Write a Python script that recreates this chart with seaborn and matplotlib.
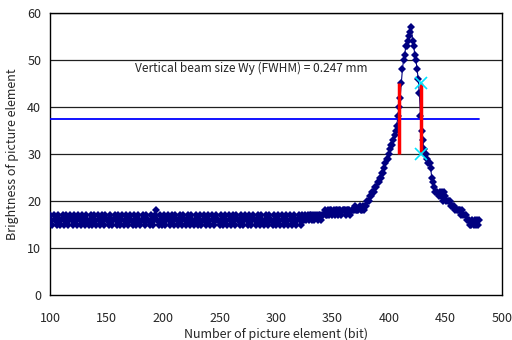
import numpy as np
import pandas as pd
import matplotlib
matplotlib.use("Agg")
import matplotlib.pyplot as plt
import seaborn as sns

# brightness profile, segment by segment
base_start = 100
base = [17, 16, 15, 17, 16, 16, 15, 17, 16, 15, 16, 17, 15, 16, 17, 16, 15, 16, 17, 16,
        15, 17, 16, 16, 15, 17, 16, 15, 17, 16, 16, 15, 17, 16, 15, 16, 17, 15, 16, 17,
        16, 15, 17, 16, 15, 16, 17, 16, 15, 17, 16, 16, 15, 17, 16, 15, 16, 17, 16, 15,
        17, 16, 15, 16, 17, 15, 16, 17, 16, 15, 16, 17, 16, 15, 17, 16, 15, 16, 17, 16,
        15, 16, 17, 16, 15, 17, 16, 16, 15, 17, 16, 15, 16, 17, 18, 16, 15, 17, 16, 15,
        16, 17, 15, 16, 17, 16, 15, 16, 17, 16, 15, 17, 16, 15, 16, 17, 16, 15, 17, 16,
        15, 16, 17, 16, 15, 17, 16, 15, 16, 17, 16, 15, 16, 17, 15, 16, 17, 16, 15, 16,
        17, 16, 15, 17, 16, 15, 16, 17, 16, 16, 15, 17, 16, 15, 16, 17, 16, 15, 17, 16,
        15, 16, 17, 16, 15, 17, 16, 16, 15, 17, 16, 15, 16, 17, 16, 15, 17, 16, 15, 16,
        17, 16, 15, 16, 17, 16, 15, 17, 16, 15, 16, 17, 16, 15, 17, 16, 16, 15, 17, 16,
        15, 16, 17, 16, 15, 17, 16, 15, 16, 17, 16, 15, 17, 16, 15, 16, 17, 16, 15, 16,
        17, 16, 15, 17, 16, 16, 17, 16, 17, 16, 17, 17, 16, 17, 16, 17, 17, 16, 17, 17,
        16, 17, 17, 18, 17]

shoulder_start = 345
shoulder = [17, 18, 17, 18, 18, 17, 18, 17, 18, 18, 17, 18, 18, 17, 18, 18, 18,
            17, 18, 18, 18, 17, 18, 18, 18, 19, 18, 18, 18, 19, 18, 18, 19]

rise_start = 378
rise = [18, 19, 19, 20, 20, 21, 21, 22, 22, 22, 23, 23, 24, 24, 25, 25, 26, 26,
        27, 28, 29, 29, 30, 31, 32, 32, 33, 34, 35, 36, 38, 40, 42, 45, 48, 50,
        51, 53, 53, 54, 55, 56, 57]

fall_start = 421
fall = [54, 53, 51, 50, 48, 46, 43, 38, 35, 33, 31, 30, 30, 29, 28, 28, 27, 25,
        24, 23, 22, 22, 22, 21, 22, 21, 22, 20, 22, 21, 20, 20, 20, 20, 19, 19,
        19, 19, 18, 18, 18, 18, 18, 17, 18, 17, 17, 17, 16, 16, 16, 15, 15, 16,
        15, 16, 15, 16, 15, 16]

half_level = 37.5
fwhm_left = 409
fwhm_right = 428.3
cross_y = [45, 30]
label = "Vertical beam size Wy (FWHM) = 0.247 mm"

xs = []
ys = []
for start, seg in [(base_start, base), (shoulder_start, shoulder),
                   (rise_start, rise), (fall_start, fall)]:
    xs += list(np.arange(start, start + len(seg)))
    ys += seg
df = pd.DataFrame({"pixel": xs, "brightness": ys})

sns.set_style("white")
plt.rcParams["font.family"] = ["Noto Sans CJK JP", "DejaVu Sans"]

fig = plt.figure(figsize=(5.12, 3.4), dpi=100)
ax = fig.add_axes([0.098, 0.132, 0.882, 0.830])

for v in range(10, 61, 10):
    ax.axhline(v, color="#202020", lw=0.9, zorder=0)

sns.lineplot(data=df, x="pixel", y="brightness", ax=ax, color="#000080",
             lw=0.8, marker="D", markersize=3.9, markeredgewidth=0,
             clip_on=True, zorder=3)

ax.plot([100, 480], [half_level, half_level], color="#0000ff", lw=1.3, zorder=4)
ax.vlines([fwhm_left, fwhm_right], cross_y[1], cross_y[0], color="#ff0000", lw=2.5, zorder=5)
ax.plot([fwhm_right, fwhm_right], cross_y, ls="none", marker="x", ms=9, mew=1.2,
        color="#00e5ff", zorder=6)

ax.text(175, 48.3, label, fontsize=8.6, va="center", ha="left")

ax.set_xlim(100, 500)
ax.set_ylim(0, 60)
ax.set_xticks(range(100, 501, 50))
ax.set_yticks(range(0, 61, 10))
ax.tick_params(axis="x", direction="in", length=4, labelsize=9, pad=12, color="black")
ax.tick_params(axis="y", direction="out", length=3, labelsize=9, color="black")
ax.set_xlabel("Number of picture element (bit)", fontsize=9, labelpad=2)
ax.set_ylabel("Brightness of picture element", fontsize=9, labelpad=6)
for s in ax.spines.values():
    s.set_color("black")
    s.set_linewidth(1.0)

plt.savefig("out.png", dpi=100)
